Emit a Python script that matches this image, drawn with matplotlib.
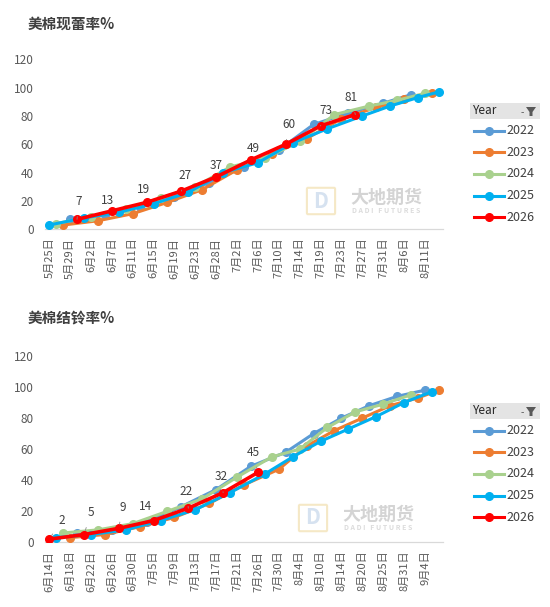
import matplotlib.pyplot as plt
from matplotlib.lines import Line2D
from matplotlib.patches import Rectangle, Polygon, FancyBboxPatch

plt.rcParams['font.family'] = ['Noto Sans CJK SC', 'DejaVu Sans']

W, H = 550, 607

YEARS = ['2022', '2023', '2024', '2025', '2026']
COLORS = {'2022': '#5B9BD5', '2023': '#ED7D31', '2024': '#A9D18E',
          '2025': '#00B0F0', '2026': '#FF0000'}

# ── 现蕾率 (squaring) ────────────────────────────────────────────────
sq_2022_dates = ['5/29', '6/5', '6/12', '6/19', '6/26', '7/3', '7/10', '7/17', '7/24', '7/31', '8/7']
sq_2022_vals = [7, 10, 16, 23, 33, 44, 56, 74, 82, 89, 95]
sq_2023_dates = ['5/28', '6/4', '6/11', '6/18', '6/25', '7/2', '7/9', '7/16', '7/23', '7/30', '8/6', '8/13']
sq_2023_vals = [3, 6, 11, 19, 28, 42, 53, 64, 78, 86, 92, 96]
sq_2024_dates = ['5/26', '6/2', '6/9', '6/16', '6/23', '6/30', '7/7', '7/14', '7/21', '7/28', '8/4', '8/11']
sq_2024_vals = [4, 9, 14, 22, 30, 44, 50, 62, 81, 87, 91, 96]
sq_2025_dates = ['5/25', '6/1', '6/8', '6/15', '6/22', '6/29', '7/6', '7/13', '7/20', '7/27', '8/3', '8/10', '8/17']
sq_2025_vals = [3, 8, 12, 18, 26, 40, 47, 61, 71, 80, 87, 93, 97]
sq_2026_dates = ['5/31', '6/7', '6/14', '6/21', '6/28', '7/5', '7/12', '7/19', '7/26']
sq_2026_vals = [7, 13, 19, 27, 37, 49, 60, 73, 81]
sq_label_leader = [True, False, False, True, False, False, True, True, True]
sq_label_offset = [(1.7, -17.6), (-4.6, -10.7), (-3, -12.7), (3.3, -15.7), (0, -11),
                   (2, -11.6), (3, -19.7), (5.7, -15), (-4.3, -16.7)]

# ── 结铃率 (setting bolls) ───────────────────────────────────────────
bo_2022_dates = ['6/19', '6/26', '7/3', '7/10', '7/17', '7/24', '7/31', '8/7', '8/14', '8/21', '8/28', '9/4']
bo_2022_vals = [6, 8, 13, 23, 34, 49, 58, 70, 80, 88, 94, 98]
bo_2023_dates = ['6/18', '6/25', '7/2', '7/9', '7/16', '7/23', '7/30', '8/6', '8/13', '8/20', '8/27', '9/3', '9/10']
bo_2023_vals = [3, 5, 10, 16, 25, 37, 47, 62, 72, 80, 88, 93, 98]
bo_2024_dates = ['6/16', '6/23', '6/30', '7/7', '7/14', '7/21', '7/28', '8/4', '8/11', '8/18', '8/25', '9/1']
bo_2024_vals = [6, 8, 12, 20, 28, 42, 55, 60, 74, 84, 89, 95]
bo_2025_dates = ['6/15', '6/22', '6/29', '7/6', '7/13', '7/20', '7/27', '8/3', '8/10', '8/17', '8/24', '8/31', '9/7']
bo_2025_vals = [3, 5, 8, 14, 21, 32, 44, 55, 65, 73, 81, 90, 97]
bo_2026_dates = ['6/14', '6/21', '6/28', '7/5', '7/12', '7/19', '7/26']
bo_2026_vals = [2, 5, 9, 14, 22, 32, 45]
bo_label_leader = [True, True, True, False, True, True, True]
bo_label_offset = [(12.7, -19), (7, -21.6), (3.7, -21), (-8.3, -14), (-2.3, -16.6),
                   (-2, -15.7), (-5, -20)]

squaring = {
    '2022': (sq_2022_dates, sq_2022_vals), '2023': (sq_2023_dates, sq_2023_vals),
    '2024': (sq_2024_dates, sq_2024_vals), '2025': (sq_2025_dates, sq_2025_vals),
    '2026': (sq_2026_dates, sq_2026_vals),
}
bolls = {
    '2022': (bo_2022_dates, bo_2022_vals), '2023': (bo_2023_dates, bo_2023_vals),
    '2024': (bo_2024_dates, bo_2024_vals), '2025': (bo_2025_dates, bo_2025_vals),
    '2026': (bo_2026_dates, bo_2026_vals),
}


def fx(x):
    return x / W


def fy(y):
    return 1 - y / H


def md_key(d):
    m, day = d.split('/')
    return int(m), int(day)


def draw_panel(fig, rect, series, offsets, leaders):
    ax = fig.add_axes(rect)
    # category axis = sorted union of all report dates
    cats = sorted({d for dates, _ in series.values() for d in dates}, key=md_key)
    pos = {d: i for i, d in enumerate(cats)}
    for i, yr in enumerate(YEARS):
        dates, vals = series[yr]
        xs = [pos[d] for d in dates]
        lw = 2.6 if yr == '2026' else 2.2
        ax.plot(xs, vals, color=COLORS[yr], lw=lw, marker='o', ms=5.5,
                solid_joinstyle='round', zorder=2 + i)
    dates, vals = series['2026']
    for d, v, (ox, oy), lead in zip(dates, vals, offsets, leaders):
        arrow = dict(arrowstyle='-', color='#8c8c8c', lw=0.6, shrinkA=4, shrinkB=3) if lead else None
        ax.annotate(str(v), (pos[d], v), xytext=(ox * 0.72, -oy * 0.72),
                    textcoords='offset points', ha='center', va='center',
                    fontsize=8.5, color='#404040', arrowprops=arrow, zorder=10)
    ax.set_xlim(-0.6, len(cats) - 0.4)
    ax.set_ylim(0, 120)
    ax.set_yticks(range(0, 121, 20))
    ticks = list(range(0, len(cats), 3))
    ax.set_xticks(ticks)
    ax.set_xticklabels([f"{cats[t].split('/')[0]}月{cats[t].split('/')[1]}日" for t in ticks],
                       rotation=90, fontsize=8, color='#595959')
    ax.tick_params(axis='y', labelsize=8.5, labelcolor='#595959', length=0, pad=8)
    ax.tick_params(axis='x', length=0, pad=6)
    for s in ['top', 'right', 'left']:
        ax.spines[s].set_visible(False)
    ax.spines['bottom'].set_color('#d9d9d9')
    ax.spines['bottom'].set_linewidth(0.9)
    ax.patch.set_alpha(0)
    return ax


def draw_legend(fig, top):
    fig.add_artist(Rectangle((fx(470), fy(top + 16)), fx(540) - fx(470), fy(top) - fy(top + 16),
                             transform=fig.transFigure, facecolor='#e4e4e4', edgecolor='none'))
    fig.text(fx(473), fy(top + 8), 'Year', fontsize=8.5, color='#262626', va='center', ha='left')
    # filter icon
    fig.add_artist(Polygon([(fx(526), fy(top + 4)), (fx(536), fy(top + 4)), (fx(532.5), fy(top + 9)),
                            (fx(532.5), fy(top + 13)), (fx(529.5), fy(top + 13)), (fx(529.5), fy(top + 9))],
                           closed=True, transform=fig.transFigure, facecolor='#595959', edgecolor='none'))
    fig.text(fx(522), fy(top + 10), '-', fontsize=7, color='#595959', va='center', ha='center')
    for i, yr in enumerate(YEARS):
        y = top + 27.5 + 21.7 * i
        fig.add_artist(Line2D([fx(474), fx(504)], [fy(y), fy(y)], transform=fig.transFigure,
                              color=COLORS[yr], lw=2.2))
        fig.add_artist(Line2D([fx(489)], [fy(y)], transform=fig.transFigure, color=COLORS[yr],
                              marker='o', ms=5.5, lw=0))
        fig.text(fx(506), fy(y), yr, fontsize=9, color='#404040', va='center', ha='left')


def draw_watermark(fig, x, y):
    fig.add_artist(FancyBboxPatch((fx(x), fy(y + 25)), fx(26), fy(0) - fy(24),
                                  boxstyle='round,pad=0.002', transform=fig.transFigure,
                                  facecolor='none', edgecolor='#f3e3b8', lw=1.5, alpha=0.8))
    fig.text(fx(x + 13), fy(y + 13), 'D', fontsize=15, color='#d6e2f0', ha='center', va='center',
             fontweight='bold')
    fig.text(fx(x + 78), fy(y + 9), '大地期货', fontsize=13, color='#d4d4d4', ha='center',
             va='center', fontweight='bold')
    fig.text(fx(x + 78), fy(y + 22), 'D A D I   F U T U R E S', fontsize=5, color='#dcdcdc',
             ha='center', va='center', fontweight='bold')


fig = plt.figure(figsize=(W / 100, H / 100), dpi=100)

fig.text(fx(28), fy(24), '美棉现蕾率%', fontsize=10.5, fontweight='bold', color='#404040',
         va='center', ha='left')
fig.text(fx(28), fy(318), '美棉结铃率%', fontsize=10.5, fontweight='bold', color='#404040',
         va='center', ha='left')

draw_watermark(fig, 308, 188)
draw_watermark(fig, 300, 505)

draw_panel(fig, [fx(45), fy(229.3), fx(443) - fx(45), fy(59.3) - fy(229.3)],
           squaring, sq_label_offset, sq_label_leader)
draw_panel(fig, [fx(45), fy(542.3), fx(443) - fx(45), fy(356) - fy(542.3)],
           bolls, bo_label_offset, bo_label_leader)

draw_legend(fig, 103)
draw_legend(fig, 403)

fig.savefig('out.png', dpi=100)
